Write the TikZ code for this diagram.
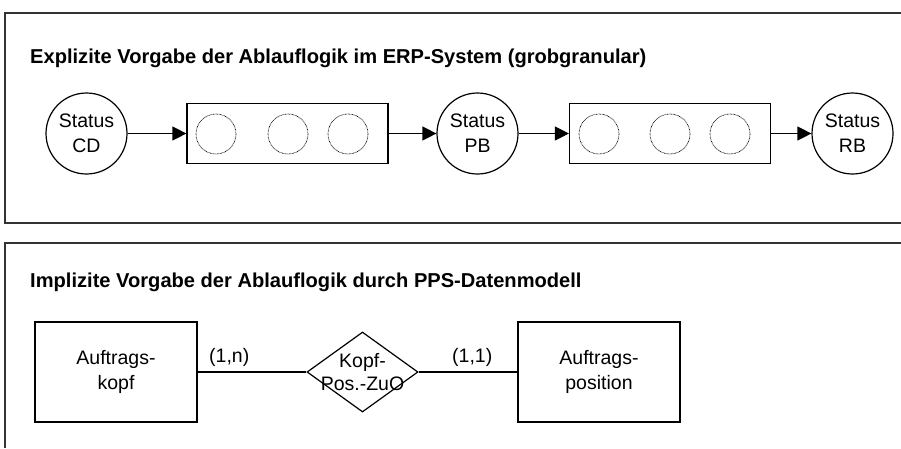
\documentclass[tikz,border=0pt]{standalone}
\usepackage{fontspec}
\setmainfont{Liberation Sans}
\usetikzlibrary{shapes.geometric,arrows.meta}
\begin{document}
\begin{tikzpicture}[x=1pt,y=-1pt,
  frame/.style={draw=black!80, line width=1.4pt},
  title/.style={font=\fontsize{20.1}{24}\selectfont\bfseries, anchor=base west, inner sep=0},
  state/.style={circle, draw, line width=1.2pt, minimum size=81pt, inner sep=0, align=center, font=\fontsize{19.5}{25}\selectfont},
  group/.style={draw, line width=1.2pt, minimum width=201pt, minimum height=60pt, inner sep=0},
  sub/.style={circle, draw, dash pattern=on 0.7pt off 0.7pt, line width=0.7pt, minimum size=40pt, inner sep=0},
  flow/.style={line width=1.2pt, -{Triangle[length=14pt,width=14pt]}},
  entity/.style={draw, line width=1.2pt, minimum width=162pt, minimum height=100pt, inner sep=0, align=center, font=\fontsize{19.5}{25}\selectfont},
  rel/.style={diamond, draw, line width=1.2pt, minimum width=111pt, minimum height=80pt, inner sep=0},
  reltext/.style={align=center, inner sep=0, font=\fontsize{19.5}{23}\selectfont},
  lbl/.style={font=\fontsize{19.5}{24}\selectfont, anchor=base west, inner sep=0},
  link/.style={line width=1.2pt}
]
\useasboundingbox (0,0) rectangle (901,448);
% frames
\draw[frame] (901,13) -- (5,13) -- (5,223) -- (901,223);
\draw[frame] (901,243) -- (5,243) -- (5,448);
% top part
\node[title] (t1) at (30,63) {Explizite Vorgabe der Ablauflogik im ERP-System (grobgranular)};
\node[state] (cd) at (86.5,133.5) {Status\\CD};
\node[group] (g1) at (287.5,133.5) {};
\node[sub] (a1) at (216,134) {};
\node[sub] (a2) at (288,134) {};
\node[sub] (a3) at (348,134) {};
\node[state] (pb) at (477.5,133.5) {Status\\PB};
\node[group] (g2) at (670,133.5) {};
\node[sub] (b1) at (599,134) {};
\node[sub] (b2) at (670,134) {};
\node[sub] (b3) at (730,134) {};
\node[state] (rb) at (852.5,133.5) {Status\\RB};
\draw[flow] (cd) -- (g1);
\draw[flow] (g1) -- (pb);
\draw[flow] (pb) -- (g2);
\draw[flow] (g2) -- (rb);
% bottom part
\node[title] (t2) at (30,287) {Implizite Vorgabe der Ablauflogik durch PPS-Datenmodell};
\node[entity] (kopf) at (116,372) {Auftrags-\\kopf};
\node[rel] (zuo) at (362.5,372) {};
\node[reltext] (zuotext) at (zuo.center) {Kopf-\\Pos.-ZuO};
\node[entity] (pos) at (599,372) {Auftrags-\\position};
\draw[link] (kopf) -- (zuo);
\draw[link] (zuo) -- (pos);
\node[lbl] (c1) at (209,362) {(1,n)};
\node[lbl] (c2) at (452,362) {(1,1)};
\end{tikzpicture}
\end{document}
